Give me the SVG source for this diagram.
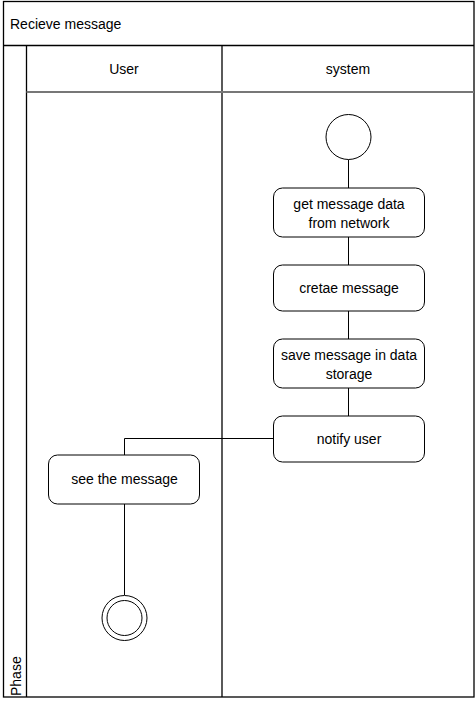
<svg xmlns="http://www.w3.org/2000/svg" width="476" height="704" viewBox="0 0 476 704">
<style>
text{font-family:"Liberation Sans",Arial,sans-serif;font-size:14px;fill:#000}
.frame{fill:none;stroke:#000;stroke-width:1.3}
.act{fill:#fff;stroke:#000;stroke-width:1}
.conn{fill:none;stroke:#000;stroke-width:1}
.mid{text-anchor:middle}
</style>
<rect width="476" height="704" fill="#fff"/>
<g id="pool">
<rect class="frame" x="3.5" y="1.5" width="470.5" height="695.5"/>
<line class="frame" x1="3.5" y1="45.5" x2="474" y2="45.5"/>
<line class="frame" x1="26.5" y1="45.5" x2="26.5" y2="697"/>
<line class="frame" x1="222" y1="45.5" x2="222" y2="697"/>
<line x1="26.5" y1="92" x2="474" y2="92" stroke="#777" stroke-width="2"/>
<text x="10" y="29">Recieve message</text>
<text x="124" y="74" class="mid">User</text>
<text x="348" y="74" class="mid">system</text>
<text transform="translate(20.5,696) rotate(-90)">Phase</text>
</g>
<g id="connectors">
<line class="conn" x1="348.5" y1="159.5" x2="348.5" y2="188"/>
<line class="conn" x1="348.5" y1="237" x2="348.5" y2="265"/>
<line class="conn" x1="348.5" y1="311" x2="348.5" y2="339"/>
<line class="conn" x1="348.5" y1="388" x2="348.5" y2="416"/>
<polyline class="conn" points="273,438.5 124.5,438.5 124.5,455"/>
<line class="conn" x1="124.5" y1="504" x2="124.5" y2="595"/>
</g>
<g id="start">
<circle class="act" cx="348.5" cy="137" r="22.5"/>
</g>
<g id="get-data">
<rect class="act" x="273.5" y="188" width="151" height="49" rx="9"/>
<text x="349" y="209" class="mid">get message data</text>
<text x="349" y="227.5" class="mid">from network</text>
</g>
<g id="create">
<rect class="act" x="273.5" y="265" width="151" height="46" rx="9"/>
<text x="349" y="293" class="mid">cretae message</text>
</g>
<g id="save">
<rect class="act" x="273.5" y="339" width="151" height="49" rx="9"/>
<text x="349" y="360" class="mid">save message in data</text>
<text x="349" y="378.5" class="mid">storage</text>
</g>
<g id="notify">
<rect class="act" x="273.5" y="416" width="151" height="46" rx="9"/>
<text x="349" y="444" class="mid">notify user</text>
</g>
<g id="see">
<rect class="act" x="48.5" y="455" width="151" height="49" rx="9"/>
<text x="124.5" y="484" class="mid">see the message</text>
</g>
<g id="end">
<circle class="act" cx="124.5" cy="618" r="22.5"/>
<circle class="act" cx="124.5" cy="618" r="17.5"/>
</g>
</svg>
